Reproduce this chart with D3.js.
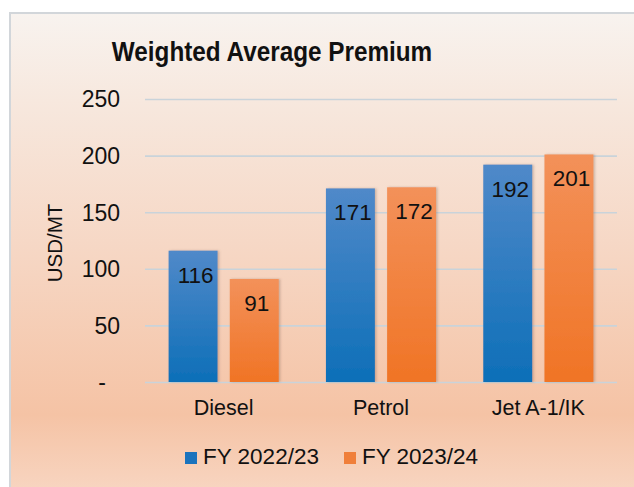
<!DOCTYPE html>
<html>
<head>
	<meta charset="utf-8">
	<title>Weighted Average Premium</title>
	<style>
		body { margin: 0; background: #fff; }
		svg text { font-family: "Liberation Sans", Arial, sans-serif; fill: #111; }
	</style>
</head>
<body>
	<svg class="svg" width="634" height="487"></svg>

	<script src="https://cdnjs.cloudflare.com/ajax/libs/d3/7.8.5/d3.min.js"></script>
	<script>
		// chart data
		var categories = ["Diesel", "Petrol", "Jet A-1/IK"];
		var seriesNames = ["FY 2022/23", "FY 2023/24"];
		var fy2223 = [116, 171, 192];
		var fy2324 = [91, 172, 201];
		var yTicks = [0, 50, 100, 150, 200, 250];
		var yTickLabels = ["-", "50", "100", "150", "200", "250"];

		var svg = d3.select("svg");

		var margin = { top: 99, right: 17, bottom: 105, left: 145 };
		var width = +svg.attr("width") - margin.left - margin.right;
		var height = +svg.attr("height") - margin.top - margin.bottom;

		var defs = svg.append("defs");

		// panel background gradient
		var bg = defs.append("linearGradient")
			.attr("id", "bg-grad")
			.attr("x1", 0).attr("y1", 0).attr("x2", 0).attr("y2", 1);
		bg.selectAll("stop")
			.data([
				{ offset: "0%", color: "#f8f3ef" },
				{ offset: "18%", color: "#f7e8de" },
				{ offset: "50%", color: "#f6d6c3" },
				{ offset: "82%", color: "#f5c3a5" },
				{ offset: "100%", color: "#f8d8c5" }
			])
			.enter().append("stop")
			.attr("offset", function(d) { return d.offset; })
			.attr("stop-color", function(d) { return d.color; });

		// bar gradients
		var barGrads = [
			{ id: "blue-grad", top: "#5089c9", bottom: "#0d6fb8" },
			{ id: "orange-grad", top: "#f3915a", bottom: "#f07425" }
		];
		barGrads.forEach(function(b) {
			var g = defs.append("linearGradient")
				.attr("id", b.id)
				.attr("x1", 0).attr("y1", 0).attr("x2", 0).attr("y2", 1);
			g.append("stop").attr("offset", "0%").attr("stop-color", b.top);
			g.append("stop").attr("offset", "100%").attr("stop-color", b.bottom);
		});

		var shadow = defs.append("filter").attr("id", "shadow")
			.attr("x", "-20%").attr("y", "-10%").attr("width", "150%").attr("height", "120%");
		shadow.append("feDropShadow")
			.attr("dx", 1.5).attr("dy", 0).attr("stdDeviation", 1.2)
			.attr("flood-color", "#7a5a48").attr("flood-opacity", 0.35);

		// panel with border
		svg.append("rect")
			.attr("x", 10).attr("y", 13)
			.attr("width", 640).attr("height", 490)
			.attr("fill", "url(#bg-grad)")
			.attr("stroke", "#d2d6da")
			.attr("stroke-width", 2);

		var g = svg.append("g")
			.attr("transform", "translate(" + margin.left + "," + margin.top + ")");

		var x0 = d3.scaleBand()
			.domain(categories)
			.range([0, width])
			.paddingInner(0.3)
			.paddingOuter(0.15);

		var x1 = d3.scaleBand()
			.domain(seriesNames)
			.range([0, x0.bandwidth()])
			.paddingInner(0.2);

		var y = d3.scaleLinear()
			.domain([0, 250])
			.range([height, 0]);

		var color = d3.scaleOrdinal()
			.domain(seriesNames)
			.range(["url(#blue-grad)", "url(#orange-grad)"]);

		var legendColor = d3.scaleOrdinal()
			.domain(seriesNames)
			.range(["#1a73bd", "#f07f3a"]);

		// gridlines
		g.append("g")
			.attr("class", "grid")
			.call(d3.axisLeft(y).tickValues(yTicks).tickSize(-width).tickFormat(""))
			.call(function(s) { s.select(".domain").remove(); })
			.selectAll("line")
			.attr("stroke", "#c9d3da")
			.attr("stroke-width", 1.6);

		// y tick labels
		g.append("g")
			.attr("class", "y axis")
			.attr("transform", "translate(-25,0)")
			.call(d3.axisLeft(y).tickValues(yTicks).tickSize(0)
				.tickFormat(function(d, i) { return yTickLabels[i]; }))
			.call(function(s) { s.select(".domain").remove(); })
			.selectAll("text")
			.attr("x", function(d) { return d === 0 ? -14 : 0; })
			.attr("dy", "0.34em")
			.style("font-size", "23px")
			.style("font-family", "'Liberation Sans', Arial, sans-serif")
			.attr("fill", "#111");

		// x category labels
		g.append("g")
			.attr("class", "x axis")
			.attr("transform", "translate(0," + height + ")")
			.call(d3.axisBottom(x0).tickSize(0))
			.call(function(s) { s.select(".domain").remove(); })
			.selectAll("text")
			.attr("y", 33)
			.attr("dy", 0)
			.style("font-size", "21.5px")
			.style("font-family", "'Liberation Sans', Arial, sans-serif")
			.attr("fill", "#111");

		var rows = categories.map(function(c, i) {
			return { cat: c, values: [
				{ key: seriesNames[0], value: fy2223[i] },
				{ key: seriesNames[1], value: fy2324[i] }
			] };
		});

		var groups = g.selectAll(".group")
			.data(rows)
			.enter().append("g")
			.attr("class", "group")
			.attr("transform", function(d) { return "translate(" + x0(d.cat) + ",0)"; });

		groups.selectAll("rect")
			.data(function(d) { return d.values; })
			.enter().append("rect")
			.attr("x", function(d) { return x1(d.key); })
			.attr("y", function(d) { return y(d.value); })
			.attr("width", x1.bandwidth())
			.attr("height", function(d) { return height - y(d.value); })
			.attr("fill", function(d) { return color(d.key); })
			.attr("filter", "url(#shadow)");

		groups.selectAll(".label")
			.data(function(d) { return d.values; })
			.enter().append("text")
			.attr("class", "label")
			.attr("x", function(d) { return x1(d.key) + x1.bandwidth() / 2 + 2.5; })
			.attr("y", function(d) { return y(d.value) + 32; })
			.attr("text-anchor", "middle")
			.style("font-size", "22.5px")
			.text(function(d) { return d.value; });

		// title (slightly condensed like the original)
		svg.append("text")
			.attr("transform", "translate(272,61) scale(0.9,1)")
			.attr("text-anchor", "middle")
			.style("font-size", "27px")
			.style("font-weight", "bold")
			.text("Weighted Average Premium");

		// y axis title
		svg.append("text")
			.attr("transform", "translate(62,243) rotate(-90)")
			.attr("text-anchor", "middle")
			.style("font-size", "20.5px")
			.text("USD/MT");

		// legend
		var legendX = [185, 344];
		var legend = svg.selectAll(".legend")
			.data(seriesNames)
			.enter().append("g")
			.attr("class", "legend")
			.attr("transform", function(d, i) { return "translate(" + legendX[i] + ",452)"; });

		legend.append("rect")
			.attr("width", 12)
			.attr("height", 12)
			.attr("fill", function(d) { return legendColor(d); });

		legend.append("text")
			.attr("x", 18)
			.attr("y", 11.5)
			.style("font-size", "22.5px")
			.text(function(d) { return d; });
	</script>
</body>
</html>
